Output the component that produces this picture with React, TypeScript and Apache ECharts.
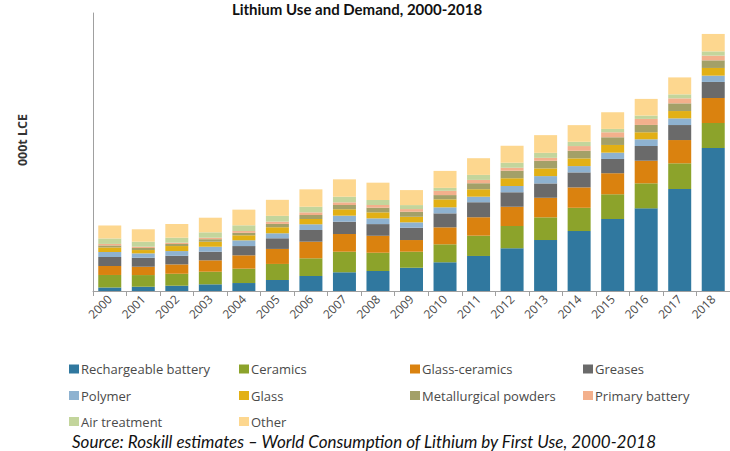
import React, { useEffect, useRef } from "react";
import * as echarts from "echarts";

const years = ["2000","2001","2002","2003","2004","2005","2006","2007","2008","2009","2010","2011","2012","2013","2014","2015","2016","2017","2018"];

const rechargeableBattery = [3.8,4.6,5.7,7.2,8.6,11.9,16.2,20.2,21.6,25.1,31.0,37.8,46.1,55.0,64.7,77.7,89.2,110.1,154.3];
const ceramics = [13.5,12.6,12.9,13.6,15.5,17.3,19.1,22.2,19.7,17.3,19.4,21.9,24.1,24.5,25.1,26.7,27.0,27.7,27.0];
const glassCeramics = [9.7,9.0,10.1,12.3,14.4,16.2,17.9,19.1,18.3,12.6,18.3,19.9,20.8,21.1,22.0,22.7,24.4,25.1,27.0];
const greases = [9.7,9.7,9.3,9.3,10.0,11.5,12.6,13.3,12.6,13.3,15.1,16.2,15.5,15.5,16.2,15.4,15.9,16.2,17.3];
const polymer = [5.4,4.7,5.1,5.4,6.2,5.4,6.2,6.5,6.2,5.8,6.5,6.0,6.8,7.9,6.8,6.8,7.2,7.2,6.8];
const glass = [4.9,3.6,5.4,5.4,5.4,6.5,5.7,6.9,6.5,6.0,8.6,8.0,8.3,8.3,8.3,8.3,7.6,7.9,8.3];
const metallurgicalPowders = [2.2,2.2,2.2,2.7,2.7,3.6,4.3,4.6,5.0,5.4,4.6,6.5,8.2,8.2,8.2,8.3,7.9,8.3,8.2];
const primaryBattery = [1.6,1.4,1.4,1.6,1.9,2.5,2.9,2.9,2.9,2.9,4.6,3.6,3.2,3.2,5.1,5.4,6.5,5.4,5.1];
const airTreatment = [5.9,5.4,5.4,5.8,6.2,6.2,6.0,6.0,5.4,4.3,3.2,5.4,5.4,5.4,4.6,3.6,3.6,4.3,4.6];
const other = [14.0,13.4,14.8,15.8,16.9,17.3,18.8,18.8,18.7,16.2,18.3,18.0,18.3,19.1,18.0,18.0,18.0,18.3,18.8];

const seriesNames = ["Rechargeable battery","Ceramics","Glass-ceramics","Greases","Polymer","Glass","Metallurgical powders","Primary battery","Air treatment","Other"];
const seriesData = [rechargeableBattery, ceramics, glassCeramics, greases, polymer, glass, metallurgicalPowders, primaryBattery, airTreatment, other];
const seriesColors = ["#30789f","#8ca32b","#da820f","#6a6a6a","#8eb2d0","#e2b015","#a3a068","#f3b08c","#c3d59c","#fdd78f"];

const titleText = "Lithium Use and Demand, 2000-2018";
const yAxisName = "000t LCE";
const sourceText = "Source: Roskill estimates \u2013 World Consumption of Lithium by First Use, 2000-2018";

// legend layout: [col, row]
const legendCols = [69, 239, 410, 583];
const legendRows = [362, 388.5, 414.5];
const legendGrid = [[0,0],[1,0],[2,0],[3,0],[0,1],[1,1],[2,1],[3,1],[0,2],[1,2]];

export default function App() {
  const ref = useRef<HTMLDivElement>(null);
  useEffect(() => {
    document.body.style.margin = "0";
    const chart = echarts.init(ref.current!, null, { renderer: "svg" });
    const legends = seriesNames.map((name, i) => ({
      show: true,
      data: [name],
      left: legendCols[legendGrid[i][0]],
      top: legendRows[legendGrid[i][1]],
      padding: 0,
      icon: "rect",
      itemWidth: 10,
      itemHeight: 9,
      selectedMode: false,
      textStyle: { fontFamily: "Open Sans", fontSize: 13, lineHeight: 14, color: "#4a4a4a", padding: [0, 0, 0, -3] },
    }));
    chart.setOption({
      animation: false,
      backgroundColor: "#ffffff",
      legend: legends,
      grid: { left: 93, top: 13, width: 640, height: 278 },
      xAxis: {
        type: "category",
        data: years,
        axisLine: { lineStyle: { color: "#a0a0a0", width: 1 } },
        axisTick: { show: true, length: 5, lineStyle: { color: "#a0a0a0" } },
        axisLabel: { rotate: 45, margin: 6, fontFamily: "Open Sans", fontSize: 12, color: "#4a4a4a", interval: 0 },
      },
      yAxis: {
        type: "value",
        min: 0,
        max: 300,
        axisLine: { show: true, lineStyle: { color: "#a0a0a0", width: 1 } },
        axisTick: { show: false },
        axisLabel: { show: false },
        splitLine: { show: false },
      },
      series: seriesNames.map((name, i) => ({
        name,
        type: "bar",
        stack: "total",
        barWidth: 23,
        data: seriesData[i],
        itemStyle: { color: seriesColors[i] },
      })),
      graphic: [
        {
          type: "text",
          x: 357,
          y: 1,
          style: {
            text: titleText,
            fontFamily: "Lato",
            fontSize: 15,
            fontWeight: "bold",
            fill: "#111",
            align: "center",
            verticalAlign: "top",
          },
        },
        {
          type: "text",
          x: 22,
          y: 140,
          rotation: Math.PI / 2,
          style: {
            text: yAxisName,
            fontFamily: "Open Sans",
            fontSize: 12.5,
            fontWeight: "bold",
            fill: "#333",
            align: "center",
            verticalAlign: "middle",
          },
        },
        {
          type: "text",
          x: 72,
          y: 441.5,
          style: {
            text: sourceText,
            fontFamily: "Lato",
            fontSize: 17,
            lineHeight: 17,
            fontStyle: "italic",
            fill: "#111",
            align: "left",
            verticalAlign: "middle",
          },
        },
      ],
    });
    return () => chart.dispose();
  }, []);
  return <div ref={ref} style={{ width: 730, height: 451 }} />;
}
